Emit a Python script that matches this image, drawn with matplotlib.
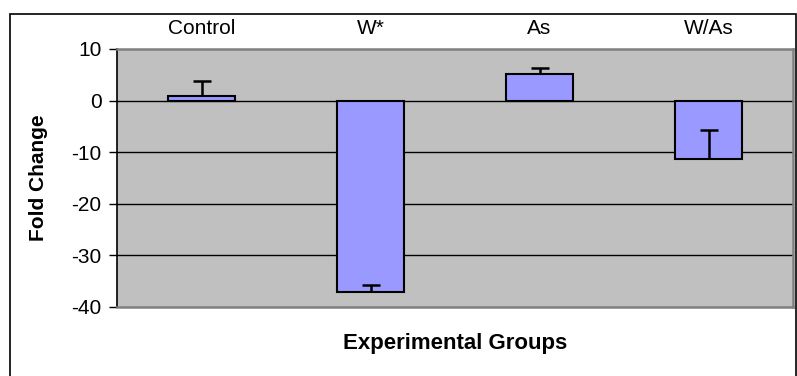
import matplotlib
matplotlib.use("Agg")
import matplotlib.pyplot as plt
from matplotlib.patches import Rectangle

categories = ["Control", "W*", "As", "W/As"]
fold_change = [0.83, -37.0, 5.15, -11.26]
error_up = [3.0, 1.3, 1.2, 5.6]
y_ticks = [10, 0, -10, -20, -30, -40]

plt.rcParams['font.family'] = ['Liberation Sans', 'DejaVu Sans']

W, H = 797, 376
fig = plt.figure(figsize=(W / 100, H / 100), dpi=100)
fig.patch.set_facecolor("white")

# outer chart border
fig.patches.append(Rectangle((10 / W, -0.02), (796 - 10) / W, (H - 14) / H + 0.02,
                             transform=fig.transFigure, fill=False,
                             edgecolor="black", linewidth=1.2, clip_on=False))

left, right, top, bottom = 117, 793, 49, 307
ax = fig.add_axes([left / W, 1 - bottom / H, (right - left) / W, (bottom - top) / H])
ax.set_facecolor("#C0C0C0")

x = list(range(len(categories)))
ax.bar(x, fold_change, width=0.4, color="#9999FF", edgecolor="black",
       linewidth=1.5, zorder=3)
eb = ax.errorbar(x, fold_change, yerr=[[0] * len(error_up), error_up], fmt="none",
                 ecolor="black", elinewidth=1.8, capsize=6.5, capthick=1.8, zorder=4)
# only the upper caps, as in the reference
eb[1][0].set_visible(False)

ax.set_xlim(-0.5, len(categories) - 0.5)
ax.set_ylim(-40, 10)
ax.set_yticks(y_ticks)
ax.set_yticklabels([str(v) for v in y_ticks], fontsize=15)
ax.tick_params(axis="y", direction="out", length=6, width=1, pad=5, color="black")

ax.xaxis.tick_top()
ax.set_xticks(x)
ax.set_xticklabels(categories, fontsize=15)
ax.tick_params(axis="x", length=0, pad=8)

for yv in [0, -10, -20, -30]:
    ax.axhline(yv, color="black", linewidth=1, zorder=1)

for side in ["top", "right", "bottom"]:
    ax.spines[side].set_color("#808080")
    ax.spines[side].set_linewidth(1.8)
ax.spines["left"].set_color("black")
ax.spines["left"].set_linewidth(1.2)

fig.text((left + right) / 2 / W, 1 - 343 / H, "Experimental Groups",
         ha="center", va="center", fontsize=16, fontweight="bold")
fig.text(38 / W, 1 - 178 / H, "Fold Change", ha="center", va="center",
         rotation=90, fontsize=15, fontweight="bold")

fig.savefig("out.png", dpi=100)
